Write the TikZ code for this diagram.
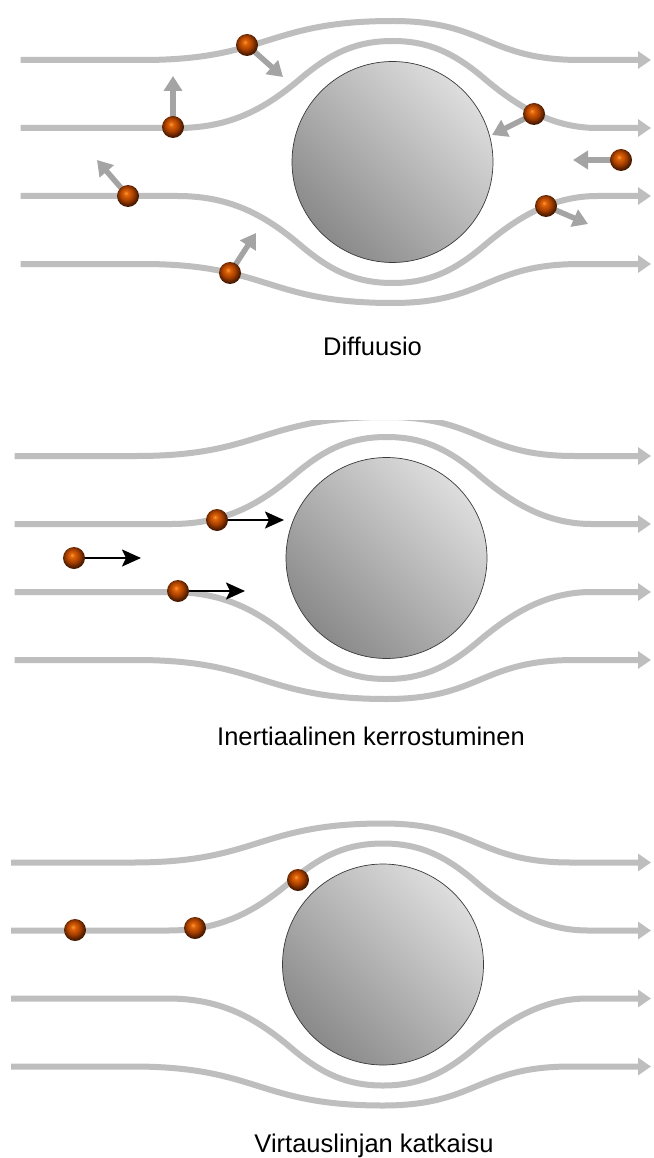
\documentclass[tikz,border=0pt]{standalone}
\usepackage{fontspec}
\setmainfont{Liberation Sans}
\usetikzlibrary{arrows.meta}

\definecolor{streamgray}{HTML}{BEBEBE}
\definecolor{movegray}{HTML}{A4A4A4}
\definecolor{orangehi}{HTML}{FF9A3C}
\definecolor{orangemid}{HTML}{E06408}
\definecolor{orangedark}{HTML}{A84000}
\definecolor{rimbrown}{HTML}{4A1A00}
\definecolor{bodylight}{HTML}{DDDDDD}
\definecolor{bodydark}{HTML}{8A8A8A}
\definecolor{bodyedge}{HTML}{3A3A3A}

% glossy orange sphere
\pgfdeclareradialshading{orangeball}{\pgfpoint{-5bp}{7bp}}{%
  color(0bp)=(orangehi); color(5bp)=(orangemid); color(15bp)=(orangedark);
  color(25bp)=(rimbrown); color(50bp)=(rimbrown)}

\pgfdeclarelayer{flow}
\pgfdeclarelayer{motion}
\pgfsetlayers{flow,motion,main}

\tikzset{
  stream/.style={draw=streamgray, line width=6pt, -{Triangle[length=13pt,width=17pt]}},
  obstacle/.style={circle, draw=bodyedge, line width=0.7pt, minimum size=201pt, inner sep=0pt,
    top color=bodylight, bottom color=bodydark, shading angle=-45},
  grain/.style={circle, minimum size=22pt, inner sep=0pt, shade, shading=orangeball},
  drift/.style={draw=movegray, line width=5.5pt, -{Triangle[length=15pt,width=18pt]}},
  inertia/.style={draw=black, line width=2.2pt, -{Stealth[length=19pt,width=17pt,inset=4pt]}},
  caption/.style={anchor=base, font=\fontsize{25.5}{30}\selectfont, text=black},
}

% four streamlines around an obstacle centred at (#1,#2)
\newcommand\flowlines[2]{%
  \begin{scope}[shift={(#1,#2)}]
    \draw[stream] (-372,-102) -- (-250,-102)
      .. controls (-125,-102) and (-125,-141) .. (0,-141)
      .. controls (94,-141) and (94,-102) .. (188,-102) -- (651-#1,-102);
    \draw[stream] (-372,-34) -- (-215,-34)
      .. controls (-160,-34) and (-125,-55) .. (-90,-85)
      .. controls (-60,-110) and (-35,-121) .. (0,-121)
      .. controls (35,-121) and (60,-110) .. (90,-85)
      .. controls (125,-55) and (160,-34) .. (205,-34) -- (651-#1,-34);
    \draw[stream] (-372,34) -- (-215,34)
      .. controls (-160,34) and (-125,55) .. (-90,85)
      .. controls (-60,110) and (-35,121) .. (0,121)
      .. controls (35,121) and (60,110) .. (90,85)
      .. controls (125,55) and (160,34) .. (205,34) -- (651-#1,34);
    \draw[stream] (-372,102) -- (-250,102)
      .. controls (-125,102) and (-125,141) .. (0,141)
      .. controls (94,141) and (94,102) .. (188,102) -- (651-#1,102);
  \end{scope}}

\begin{document}
\begin{tikzpicture}[x=1pt, y=-1pt]
  \useasboundingbox (0,0) rectangle (653,1158);

  \begin{pgfonlayer}{flow}
    \fill[white] (0,0) rectangle (653,1158);
    \flowlines{392.5}{162}
    \begin{scope}
      \clip (0,420) rectangle (653,800);
      \flowlines{386.5}{558}
    \end{scope}
    \flowlines{383}{964.5}
  \end{pgfonlayer}

  % obstacles
  \node[obstacle] (body1) at (392.5,162) {};
  \node[obstacle] (body2) at (386.5,558) {};
  \node[obstacle] (body3) at (383,964.5) {};

  % diffusion: particles with random motion
  \node[grain] (p1) at (247,45) {};
  \node[grain] (p2) at (173,127) {};
  \node[grain] (p3) at (534,114) {};
  \node[grain] (p4) at (621,160) {};
  \node[grain] (p5) at (128,196) {};
  \node[grain] (p6) at (546,206) {};
  \node[grain] (p7) at (230,273) {};
  \coordinate (t1) at (283,77);
  \coordinate (t2) at (173,76);
  \coordinate (t3) at (492,135);
  \coordinate (t4) at (573,160);
  \coordinate (t5) at (97,160);
  \coordinate (t6) at (588,224);
  \coordinate (t7) at (256,233);

  % inertial deposition
  \node[grain] (q1) at (217,520) {};
  \node[grain] (q2) at (74,558) {};
  \node[grain] (q3) at (178,591) {};
  \coordinate (u1) at (284,520);
  \coordinate (u2) at (141,558);
  \coordinate (u3) at (245,591);

  % interception
  \node[grain] (r1) at (75,930) {};
  \node[grain] (r2) at (195,928) {};
  \node[grain] (r3) at (298,880) {};

  \begin{pgfonlayer}{motion}
    \draw[drift] (p1.center) -- (t1);
    \draw[drift] (p2.center) -- (t2);
    \draw[drift] (p3.center) -- (t3);
    \draw[drift] (p4.center) -- (t4);
    \draw[drift] (p5.center) -- (t5);
    \draw[drift] (p6.center) -- (t6);
    \draw[drift] (p7.center) -- (t7);
    \draw[inertia] (q1.center) -- (u1);
    \draw[inertia] (q2.center) -- (u2);
    \draw[inertia] (q3.center) -- (u3);
  \end{pgfonlayer}

  % captions
  \node[caption] (cap1) at (372.5,355) {Diffuusio};
  \node[caption] (cap2) at (371,745) {Inertiaalinen kerrostuminen};
  \node[caption] (cap3) at (374,1152) {Virtauslinjan katkaisu};
\end{tikzpicture}
\end{document}
